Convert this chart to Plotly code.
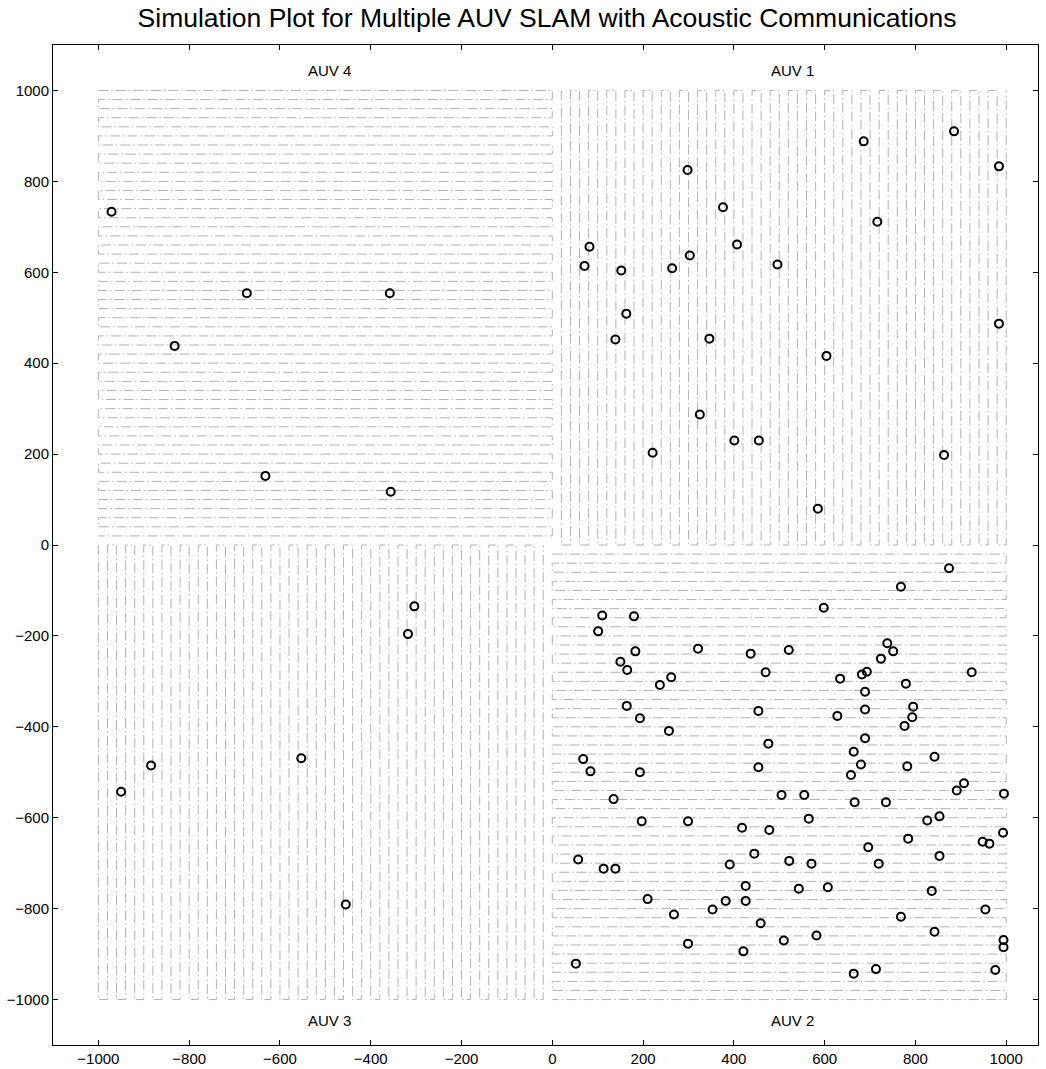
import plotly.graph_objects as go

# Survey lanes: offsets of the parallel tracks (m) from the quadrant boundary
lane_offsets = [20, 40, 60, 80, 100, 120, 140, 160, 180, 200,
                220, 240, 260, 280, 300, 320, 340, 360, 380, 400,
                420, 440, 460, 480, 500, 520, 540, 560, 580, 600,
                620, 640, 660, 680, 700, 720, 740, 760, 780, 800,
                820, 840, 860, 880, 900, 920, 940, 960, 980, 1000]

# Landmark positions (m)
landmarks_x = [
    # quadrant of AUV 4
    -971, -673, -358, -832, -632, -356,
    # quadrant of AUV 1
    885, 686, 984, 298, 376, 716, 82, 407, 71, 152, 264, 303, 496, 163,
    139, 346, 984, 604, 325, 221, 401, 455, 863, 585,
    # quadrant of AUV 3
    -304, -318, -884, -950, -553, -455,
    # quadrant of AUV 2
    874, 768, 598, 110, 180, 101, 738, 183, 321, 437, 521, 751, 724, 150,
    165, 470, 693, 682, 924, 262, 634, 237, 779, 689, 164, 454, 689, 795,
    628, 793, 193, 776, 257, 689, 476, 664, 842, 68, 454, 680, 782, 84,
    193, 658, 907, 891, 995, 505, 555, 135, 666, 735, 197, 299, 565, 826,
    853, 418, 478, 993, 784, 948, 963, 696, 57, 445, 522, 571, 719, 853,
    113, 139, 391, 426, 543, 607, 836, 210, 382, 426, 268, 353, 459, 768,
    954, 842, 510, 582, 299, 994, 994, 421, 52, 664, 713, 976,
]
landmarks_y = [
    733, 554, 554, 438, 152, 117,
    910, 888, 833, 825, 743, 711, 656, 661, 614, 604, 609, 637, 617, 509,
    452, 454, 487, 416, 287, 203, 230, 230, 198, 80,
    -135, -196, -485, -543, -469, -791,
    -51, -92, -138, -155, -157, -190, -216, -234, -228, -239, -231, -234,
    -250, -257, -275, -280, -279, -285, -280, -291, -294, -308, -305, -323,
    -354, -365, -362, -356, -376, -379, -381, -398, -409, -425, -437, -455,
    -466, -471, -489, -483, -487, -498, -500, -506, -524, -540, -547, -550,
    -550, -559, -566, -566, -608, -608, -602, -606, -597, -622, -627, -633,
    -646, -653, -657, -665, -692, -679, -695, -701, -701, -684, -712, -712,
    -703, -750, -756, -753, -761, -779, -783, -783, -813, -802, -832, -818,
    -802, -851, -870, -859, -877, -869, -885, -894, -921, -943, -933, -935,
]

# Quadrant labels
auv_names = ["AUV 1", "AUV 2", "AUV 3", "AUV 4"]
label_x = [530, 530, -490, -490]
label_y = [1045, -1045, -1045, 1045]

TITLE = "Simulation Plot for Multiple AUV SLAM with Acoustic Communications"
TRACK_COLOR = "rgb(178,178,178)"
FONT = "Liberation Sans, Arial, sans-serif"


def lawnmower_horizontal(x_a, x_b, lanes):
    """Back-and-forth path along horizontal lanes between x_a and x_b."""
    xs, ys = [], []
    for i, y in enumerate(lanes):
        ends = (x_a, x_b) if i % 2 == 0 else (x_b, x_a)
        xs.extend(ends)
        ys.extend([y, y])
    return xs, ys


def lawnmower_vertical(y_a, y_b, lanes):
    """Back-and-forth path along vertical lanes between y_a and y_b."""
    xs, ys = [], []
    for i, x in enumerate(lanes):
        ends = (y_a, y_b) if i % 2 == 0 else (y_b, y_a)
        xs.extend([x, x])
        ys.extend(ends)
    return xs, ys


pos_lanes = lane_offsets
neg_lanes = [-v for v in lane_offsets]

tracks = [
    lawnmower_vertical(1000, 0, pos_lanes),                 # AUV 1
    lawnmower_horizontal(0, 1000, neg_lanes),               # AUV 2
    lawnmower_vertical(0, -1000, neg_lanes[::-1]),          # AUV 3
    lawnmower_horizontal(-1000, 0, pos_lanes[::-1]),        # AUV 4
]

fig = go.Figure()

for tx, ty in tracks:
    fig.add_trace(go.Scatter(
        x=tx, y=ty, mode="lines",
        line=dict(color=TRACK_COLOR, width=1, dash="10px,3px,1.5px,3px"),
        hoverinfo="skip", showlegend=False,
    ))

fig.add_trace(go.Scatter(
    x=landmarks_x, y=landmarks_y, mode="markers",
    marker=dict(symbol="circle-open", size=8, color="black",
                line=dict(width=2, color="black")),
    showlegend=False,
))

for name, lx, ly in zip(auv_names, label_x, label_y):
    fig.add_annotation(x=lx, y=ly, text=name, showarrow=False,
                       xanchor="center", yanchor="middle",
                       font=dict(family=FONT, size=15, color="black"))

axis_common = dict(
    showgrid=False, zeroline=False,
    showline=True, linecolor="black", linewidth=1, mirror="ticks",
    ticks="inside", ticklen=5, tickcolor="black", tickwidth=1,
    tickfont=dict(family=FONT, size=15, color="black"),
    tickmode="array",
    tickvals=[-1000, -800, -600, -400, -200, 0, 200, 400, 600, 800, 1000],
    automargin=False,
)

fig.update_layout(
    width=1046, height=1069,
    margin=dict(l=53, r=8, t=45, b=24),
    paper_bgcolor="white", plot_bgcolor="white",
    title=dict(text=TITLE, x=0.523, xanchor="center", y=0.983, yanchor="middle",
               font=dict(family=FONT, size=26.5, color="black")),
    xaxis=dict(range=[-1100, 1070], **axis_common),
    yaxis=dict(range=[-1100, 1100], **axis_common),
)

fig.write_html("out.html")
